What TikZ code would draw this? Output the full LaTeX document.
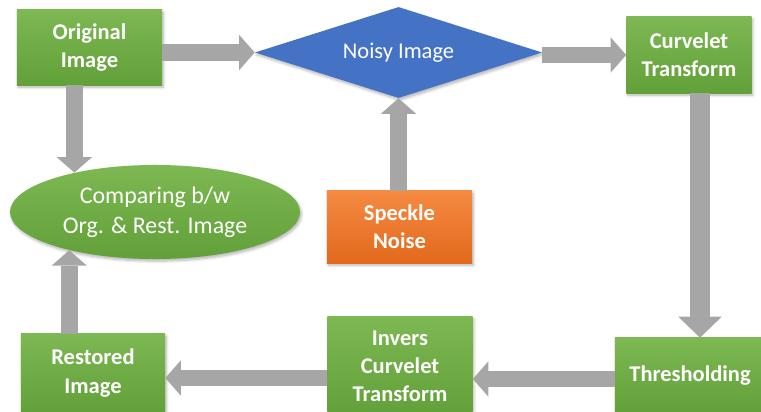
\documentclass[tikz,border=0pt]{standalone}
\usepackage{fontspec}
\setmainfont{Carlito}
\usepackage{tikz}
\usetikzlibrary{arrows.meta, positioning, calc, shapes.geometric, shadows.blur}
\definecolor{cvgreentop}{HTML}{7DB852}
\definecolor{cvgreenbot}{HTML}{62A03A}
\definecolor{cvorangetop}{HTML}{F58A42}
\definecolor{cvorangebot}{HTML}{E2691C}
\definecolor{cvblue}{HTML}{4472C4}
\definecolor{cvgrey}{HTML}{A6A6A6}

\begin{document}
\begin{tikzpicture}[x=0.025cm, y=-0.025cm, font=\fontsize{16}{20}\selectfont,
          softshadow/.style={blur shadow={shadow blur steps=6, shadow xshift=1pt, shadow yshift=-1.5pt, shadow opacity=30}},
          stage/.style={rectangle, top color=cvgreentop, bottom color=cvgreenbot, draw=none, text=white,
                        font=\fontsize{16}{20}\selectfont\bfseries, align=center, softshadow},
          flow/.style={draw=cvgrey, line width=12pt, -{Triangle[length=11pt, width=25pt, line width=0pt]}},
          bigflow/.style={flow, line width=14pt, -{Triangle[length=15pt, width=31pt, line width=0pt]}}]
          \useasboundingbox (0,0) rectangle (761,412);
          \node[stage, minimum width=3.625cm, minimum height=1.875cm] (orig) at (89.5,47.5) {Original\\Image};
          \node[diamond, fill=cvblue, text=white, shape aspect=2.9, inner sep=0pt, minimum width=7.175cm,
                minimum height=2.275cm, softshadow] (noisy) at (398.5,52.5) {Noisy Image};
          \node[stage, minimum width=3.125cm, minimum height=1.9cm] (curv) at (689,55) {Curvelet\\Transform};
          \node[ellipse, top color=cvgreentop, bottom color=cvgreenbot, text=white, align=center,
                font=\fontsize{17}{21}\selectfont,
                minimum width=7.25cm, minimum height=2.35cm, softshadow] (comp) at (155,212) {Comparing b/w\\Org. \& Rest. Image};
          \node[stage, top color=cvorangetop, bottom color=cvorangebot, minimum width=3.625cm,
                minimum height=1.8cm] (speck) at (399.5,227) {Speckle\\Noise};
          \node[stage, minimum width=3.6cm, minimum height=1.95cm] (rest) at (93,373) {Restored\\Image};
          \node[stage, minimum width=3.625cm, minimum height=2.45cm] (inv) at (400,366) {Invers\\Curvelet\\Transform};
          \node[stage, minimum width=3.75cm, minimum height=1.9cm] (thr) at (690,376) {Thresholding};
          % main loop
          \draw[flow] (orig.east |- noisy.west) -- (noisy.west);
          \draw[flow] (noisy.east |- curv.west) -- (curv.west);
          \draw[bigflow] ([xshift=0.275cm]curv.south) -- ([xshift=0.275cm]curv.south |- thr.north);
          \draw[flow] ([yshift=-0.075cm]thr.west) -- ([yshift=-0.075cm]thr.west -| inv.east);
          \draw[flow] ([yshift=-0.125cm]rest.east -| inv.west) -- ([yshift=-0.125cm]rest.east);
          \draw[flow] (rest.north -| comp.204) -- (comp.204);
          \draw[flow] (orig.south -| comp.154) -- (comp.154);
          \draw[flow] (speck.north -| noisy.south) -- (noisy.south);
        \end{tikzpicture}
\end{document}
